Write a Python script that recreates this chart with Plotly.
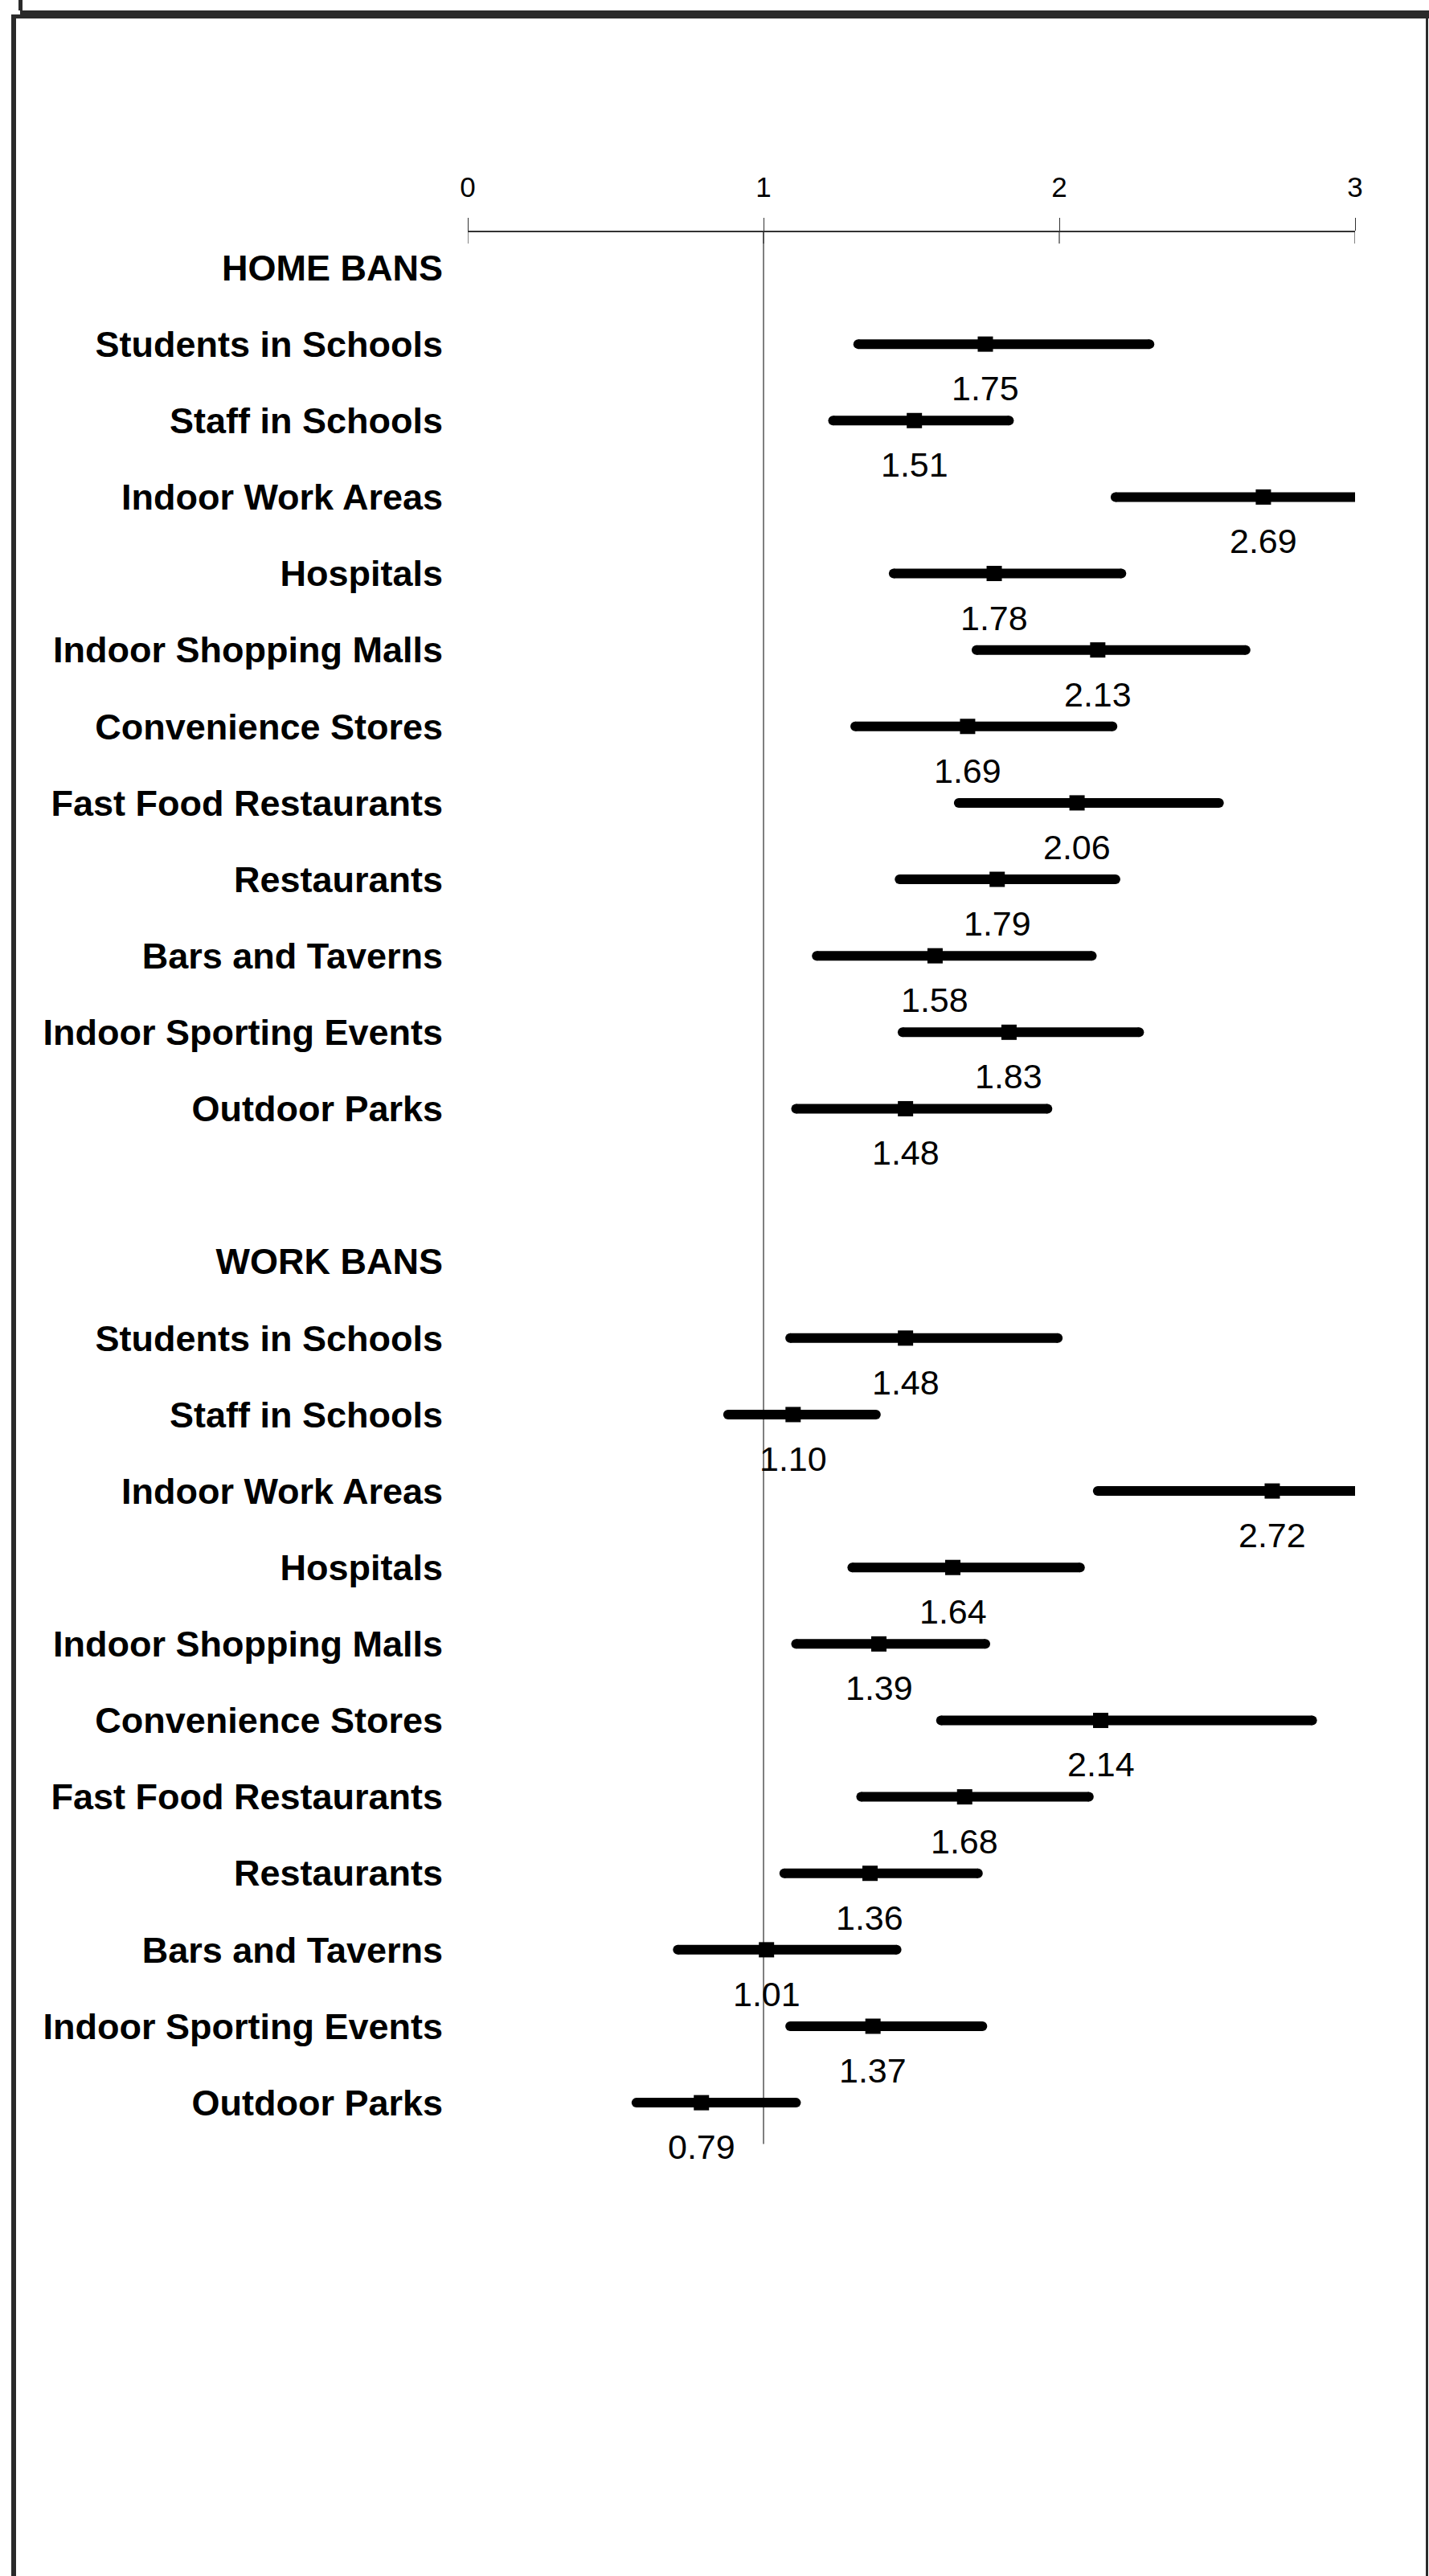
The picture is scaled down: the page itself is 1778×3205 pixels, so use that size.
import plotly.graph_objects as go

# ---- data -----------------------------------------------------------------
settings = [
    "Students in Schools", "Staff in Schools", "Indoor Work Areas", "Hospitals",
    "Indoor Shopping Malls", "Convenience Stores", "Fast Food Restaurants",
    "Restaurants", "Bars and Taverns", "Indoor Sporting Events", "Outdoor Parks",
]
group_titles = ["HOME BANS", "WORK BANS"]

home_est = [1.75, 1.51, 2.69, 1.78, 2.13, 1.69, 2.06, 1.79, 1.58, 1.83, 1.48]
home_lo = [1.32, 1.235, 2.19, 1.44, 1.72, 1.31, 1.66, 1.46, 1.18, 1.47, 1.11]
home_hi = [2.305, 1.83, 3.32, 2.21, 2.63, 2.18, 2.54, 2.19, 2.11, 2.27, 1.96]

work_est = [1.48, 1.10, 2.72, 1.64, 1.39, 2.14, 1.68, 1.36, 1.01, 1.37, 0.79]
work_lo = [1.09, 0.88, 2.13, 1.30, 1.11, 1.60, 1.33, 1.07, 0.71, 1.09, 0.57]
work_hi = [1.995, 1.38, 3.48, 2.07, 1.75, 2.855, 2.10, 1.725, 1.45, 1.74, 1.11]

x_ticks = [0, 1, 2, 3]
null_value = 1.0

# ---- layout constants (pixels) --------------------------------------------
W, H = 1778, 3205
X0_PX, X3_PX = 582, 1686          # where 0 and 3 sit horizontally
ROW0_PX, ROW_PX = 333, 95.13      # first row centre, row pitch
AXIS_PX = 288                     # vertical position of the scale line
FONT = "Liberation Sans, Arial, sans-serif"

# row order: title, 11 settings, blank, title, 11 settings
home_rows = list(range(1, 12))
work_rows = list(range(14, 25))
title_rows = [0, 13]

rows = home_rows + work_rows
est = home_est + work_est
lo = home_lo + work_lo
hi = home_hi + work_hi

fig = go.Figure()

# confidence-interval bars
seg_x, seg_y = [], []
for r, a, b in zip(rows, lo, hi):
    seg_x += [a, b, None]
    seg_y += [r, r, None]
fig.add_trace(go.Scatter(
    x=seg_x, y=seg_y, mode="lines",
    line=dict(color="black", width=12),
    hoverinfo="skip", showlegend=False,
))
# rounded ends of the bars
fig.add_trace(go.Scatter(
    x=lo + hi, y=rows + rows, mode="markers",
    marker=dict(symbol="circle", size=12, color="black", line=dict(width=0)),
    hoverinfo="skip", showlegend=False,
))
# point estimates
fig.add_trace(go.Scatter(
    x=est, y=rows, mode="markers",
    marker=dict(symbol="square", size=19, color="black", line=dict(width=0)),
    showlegend=False,
))

# value labels under each estimate
for r, v in zip(rows, est):
    fig.add_annotation(
        x=v, y=r, xref="x", yref="y", text=f"{v:.2f}", showarrow=False,
        yshift=-55, font=dict(family=FONT, size=43, color="black"),
        xanchor="center", yanchor="middle",
    )

# reference line at the null value
axis_row = (AXIS_PX - ROW0_PX) / ROW_PX
fig.add_shape(type="line", xref="x", yref="y",
              x0=null_value, x1=null_value, y0=axis_row, y1=24.54,
              line=dict(color="#555555", width=1.5), layer="below")

# lower halves of the scale ticks
ax_y = 1 - AXIS_PX / H
for t in x_ticks:
    fig.add_shape(type="line", xref="x", yref="paper",
                  x0=t, x1=t, y0=ax_y, y1=ax_y - 15 / H,
                  line=dict(color="#333333", width=1.2))

# outer frame
def px_rect(x0, y0, x1, y1, color):
    fig.add_shape(type="rect", xref="paper", yref="paper",
                  x0=x0 / W, x1=x1 / W, y0=1 - y0 / H, y1=1 - y1 / H,
                  line=dict(width=0), fillcolor=color, layer="above")

px_rect(25, 13, W, 18, "#2a2a2a")
px_rect(14, 18, W, 23, "#2a2a2a")
px_rect(23, 0, 28, 13, "#2a2a2a")
px_rect(14, 23, 20, H, "#2a2a2a")
px_rect(1774, 23, 1777, H, "#2a2a2a")

ytickvals = title_rows + home_rows + work_rows
yticktext = group_titles + settings + settings

fig.update_layout(
    width=W, height=H,
    margin=dict(l=0, r=0, t=0, b=0),
    paper_bgcolor="white", plot_bgcolor="white",
    showlegend=False,
    xaxis=dict(
        domain=[X0_PX / W, X3_PX / W], range=[0, 3],
        side="top", anchor="free", position=ax_y,
        tickvals=x_ticks, ticktext=[str(t) for t in x_ticks],
        ticks="outside", ticklen=16, tickwidth=1.2, tickcolor="#333333",
        showline=True, linecolor="#333333", linewidth=2,
        showgrid=False, zeroline=False,
        tickfont=dict(family=FONT, size=35, color="black"),
        ticklabelstandoff=12, automargin=False,
    ),
    yaxis=dict(
        domain=[0, 1],
        range=[(H - ROW0_PX) / ROW_PX, -ROW0_PX / ROW_PX],
        tickvals=ytickvals, ticktext=yticktext,
        ticks="", showline=False, showgrid=False, zeroline=False,
        tickfont=dict(family=FONT, size=45, color="black", weight="bold"),
        ticklabelstandoff=30, automargin=False,
    ),
)

fig.write_html("out.html")
